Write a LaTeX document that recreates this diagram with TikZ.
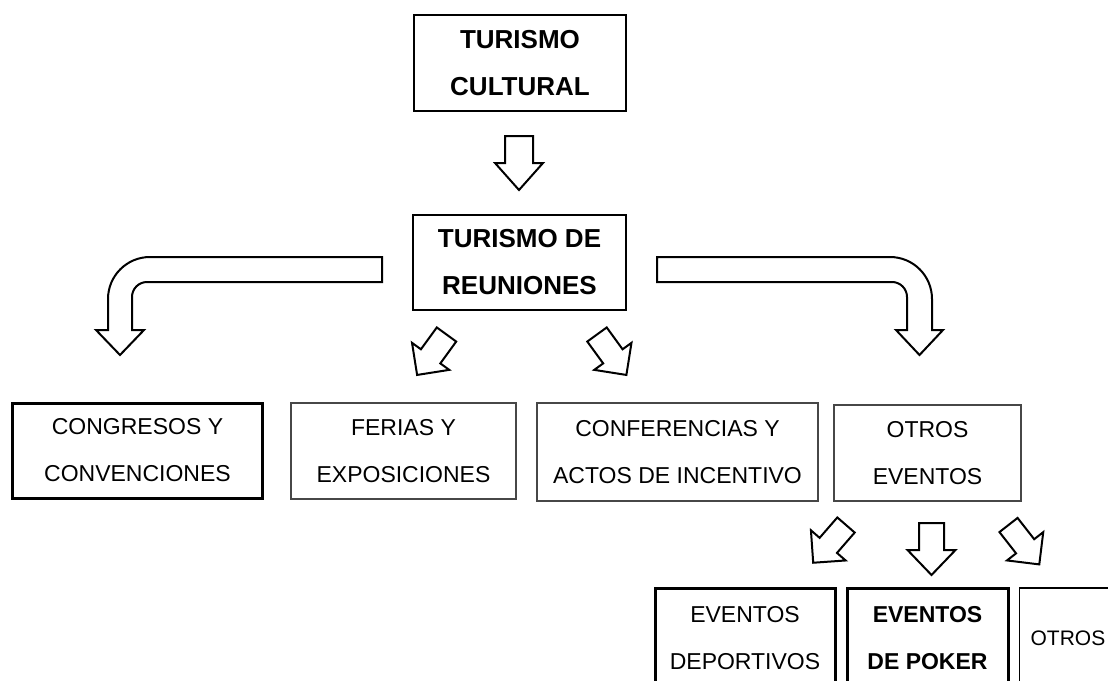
\documentclass[tikz,border=0pt]{standalone}
\usepackage{fontspec}
\setmainfont{Liberation Sans}
\newcommand\blkarrow[7]{% x y rot a b s h
  \begin{scope}[shift={(#1,#2)},rotate=#3]
    \draw[arrowline] (-#4,0) -- (-#4,#6) -- (-#5,#6) -- (0,#6+#7) -- (#5,#6) -- (#4,#6) -- (#4,0) -- cycle;
  \end{scope}}
\begin{document}
\begin{tikzpicture}[x=1pt,y=-1pt,
  arrowline/.style={draw=black, line width=2pt, line join=miter, fill=white},
  box/.style={draw=black!72, line width=1.3pt, inner sep=0pt, align=center,
    font=\fontsize{23}{47}\selectfont, text=black},
  boldbox/.style={box, draw=black, line width=1.5pt, font=\fontsize{26}{47}\selectfont\bfseries},
  thickbox/.style={box, draw=black, line width=3pt}]
\useasboundingbox (0,0) rectangle (1108,680);
\clip (0,0) rectangle (1108,680);
\fill[white] (0,0) rectangle (1108,680);
% top boxes
\node[boldbox, minimum width=212pt, minimum height=96pt] (cult) at (520,63) {TURISMO\\CULTURAL};
\node[boldbox, minimum width=213pt, minimum height=95pt] (reun) at (519.5,262.5) {TURISMO DE\\REUNIONES};
% second row
\node[thickbox, minimum width=250pt, minimum height=95pt] (cong) at (137.5,450.5) {CONGRESOS Y\\CONVENCIONES};
\node[box, minimum width=225pt, minimum height=96pt] (fer) at (403.5,451) {FERIAS Y\\EXPOSICIONES};
\node[box, minimum width=281pt, minimum height=98pt] (conf) at (677.5,452) {CONFERENCIAS Y\\ACTOS DE INCENTIVO};
\node[box, minimum width=187pt, minimum height=96pt] (otev) at (927.5,453) {OTROS\\EVENTOS};
% third row
\node[thickbox, minimum width=180pt, minimum height=100pt] (dep) at (745,638) {EVENTOS\\DEPORTIVOS};
\node[thickbox, minimum width=161pt, minimum height=100pt,
  font=\fontsize{23}{47}\selectfont\bfseries] (pok) at (927.5,638) {EVENTOS\\DE POKER};
\node[box, draw=black, line width=1.2pt, anchor=west, inner xsep=11pt, text width=98pt,
  align=left, minimum height=100pt, font=\fontsize{21}{47}\selectfont] (otr) at (1019,638) {OTROS};
% block arrows
\blkarrow{519}{136}{0}{14}{24}{27}{27}
\blkarrow{446.5}{334.5}{-36}{12}{23}{27}{23}
\blkarrow{597}{334.5}{36}{12}{23}{27}{23}
\blkarrow{846}{525}{-41}{11.5}{23}{27}{23}
\blkarrow{931.5}{523}{0}{12.5}{24}{27}{25}
\blkarrow{1008.5}{525}{38}{11.5}{23}{27}{23}
% bent arrows
\draw[arrowline] (382,257) -- (150,257) arc[start angle=-90,end angle=-180,radius=42]
  -- (108,330) -- (96,330) -- (120,355) -- (144,330) -- (132,330) -- (132,297)
  arc[start angle=180,end angle=270,radius=15] -- (382,282) -- cycle;
\draw[arrowline] (657,257) -- (890,257) arc[start angle=-90,end angle=0,radius=42]
  -- (932,330) -- (943,330) -- (919.5,355) -- (896,330) -- (907,330) -- (907,297)
  arc[start angle=0,end angle=-90,radius=15] -- (657,282) -- cycle;
\end{tikzpicture}
\end{document}
